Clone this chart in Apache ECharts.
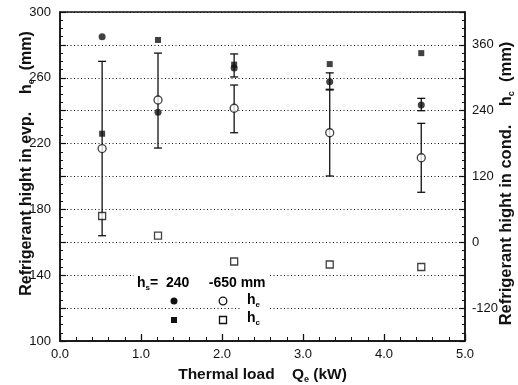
<!DOCTYPE html>
<html>
<head>
<meta charset="utf-8">
<script src="https://cdn.jsdelivr.net/npm/echarts@6/dist/echarts.min.js"></script>
<style>
  html, body { margin: 0; padding: 0; background: #fff; }
  #chart { width: 518px; height: 385px; }
</style>
</head>
<body>
<div id="chart"></div>
<script>
// thermal load Qe (kW)
var loadKW = [0.52, 1.21, 2.15, 3.33, 4.46];

// evaporator height he (mm), left axis
var heHs240 = [285, 239, 266, 257.6, 243.5];
var heHsNeg650 = [217, 246.5, 241.5, 226.6, 211.4];

// condenser height hc (mm), right axis
var hcHs240 = [198, 369, 324, 325, 345];
var hcHsNeg650 = [48, 12, -35, -40.5, -45];

// error bars (top / bottom), he
var errNeg650Top = [270, 275, 255.6, 253, 232.3];
var errNeg650Bot = [164, 217.3, 226.6, 200.3, 190.4];
var err240Load = [2.15, 3.33, 4.46];
var err240Top = [274.5, 263, 247.5];
var err240Bot = [260.5, 252.6, 240];

var leftTicks = [100, 140, 180, 220, 260, 300];
var rightTicks = [-120, 0, 120, 240, 360];

var FONT = '"Liberation Sans", Arial, sans-serif';

function pairs(xs, ys) {
  return xs.map(function (x, i) { return [x, ys[i]]; });
}
function triples(xs, a, b) {
  return xs.map(function (x, i) { return [x, b[i], a[i]]; });
}

function errBar(params, api) {
  var x = api.value(0);
  var lo = api.coord([x, api.value(1)]);
  var hi = api.coord([x, api.value(2)]);
  var w = 4;
  var st = { stroke: '#111', lineWidth: 1.3 };
  return {
    type: 'group',
    children: [
      { type: 'line', shape: { x1: hi[0], y1: hi[1], x2: lo[0], y2: lo[1] }, style: st },
      { type: 'line', shape: { x1: hi[0] - w, y1: hi[1], x2: hi[0] + w, y2: hi[1] }, style: st },
      { type: 'line', shape: { x1: lo[0] - w, y1: lo[1], x2: lo[0] + w, y2: lo[1] }, style: st }
    ]
  };
}

// rich styles for bold labels with subscripts
function richOf(size, sub, drop) {
  return {
    b: { fontFamily: FONT, fontWeight: 'bold', fontSize: size, color: '#111' },
    s: { fontFamily: FONT, fontWeight: 'bold', fontSize: sub, color: '#111', padding: [drop, 0, 0, 0] }
  };
}
var rich = richOf(14, 8, 9);
var richX = richOf(15.5, 9, 10);
var richY = richOf(16, 9, 10);
var richY2 = richOf(16.5, 9, 10);

var chart = echarts.init(document.getElementById('chart'));
chart.setOption({
  animation: false,
  grid: {
    left: 60, right: 53, top: 12, bottom: 44,
    outerBoundsMode: 'none', containLabel: false,
    show: true, borderColor: '#111', borderWidth: 1.5, backgroundColor: 'transparent'
  },
  xAxis: {
    type: 'value', min: 0, max: 5, interval: 1,
    name: '{b|Thermal load    Q}{s|e}{b| (kW)}',
    nameLocation: 'middle', nameGap: 24,
    nameTextStyle: { rich: richX },
    axisLine: { onZero: false, lineStyle: { color: '#111', width: 1.5 } },
    axisTick: { inside: true, length: 7, lineStyle: { color: '#111', width: 1.3 } },
    minorTick: { show: true, splitNumber: 5, length: 4, lineStyle: { color: '#111' } },
    splitLine: { show: false },
    axisLabel: {
      margin: 7, fontFamily: FONT, fontSize: 13, color: '#111',
      formatter: function (v) { return v.toFixed(1); }
    }
  },
  yAxis: [
    {
      type: 'value', min: 100, max: 300, interval: 20,
      name: '{b|Refrigerant hight in evp.    h}{s|e}{b|  (mm)}',
      nameLocation: 'middle', nameGap: 24, nameRotate: 90, nameMoveOverlap: false,
      nameTextStyle: { rich: richY, padding: [0, 0, 0, 26] },
      axisLine: { show: true, onZero: false, lineStyle: { color: '#111', width: 1.5 } },
      axisTick: { inside: true, length: 6, lineStyle: { color: '#111', width: 1.2 } },
      minorTick: { show: true, splitNumber: 4, length: 3, lineStyle: { color: '#111' } },
      splitLine: { show: true, lineStyle: { type: [1, 2.5], color: '#111', width: 1 } },
      axisLabel: {
        margin: 9, fontFamily: FONT, fontSize: 13, color: '#111',
        formatter: function (v) { return leftTicks.indexOf(v) >= 0 ? String(v) : ''; }
      }
    },
    {
      type: 'value', min: -180, max: 420, interval: 60, position: 'right',
      name: '{b|Refrigerant hight in cond.    h}{s|c}{b|  (mm)}',
      nameLocation: 'middle', nameGap: 32, nameRotate: 90, nameMoveOverlap: false,
      nameTextStyle: { rich: richY2, padding: [0, 14, 0, 0] },
      axisLine: { show: true, onZero: false, lineStyle: { color: '#111', width: 1.5 } },
      axisTick: { inside: true, length: 6, lineStyle: { color: '#111', width: 1.2 } },
      minorTick: { show: true, splitNumber: 4, length: 3, lineStyle: { color: '#111' } },
      splitLine: { show: false },
      axisLabel: {
        margin: 7, fontFamily: FONT, fontSize: 13, color: '#111',
        formatter: function (v) { return rightTicks.indexOf(v) >= 0 ? String(v) : ''; }
      }
    }
  ],
  graphic: [
    {
      type: 'text', left: 134, top: 275, z: 10,
      style: {
        text: '{b|h}{s|s}{b|=  240     -650 mm}', rich: rich,
        backgroundColor: '#fff', padding: [0, 3, 0, 3]
      }
    },
    {
      type: 'text', left: 240, top: 292, z: 10,
      style: { text: '{b|h}{s|e}', rich: rich, backgroundColor: '#fff', padding: [0, 8, 4, 7] }
    },
    {
      type: 'text', left: 247, top: 311, z: 10,
      style: { text: '{b|h}{s|c}', rich: rich }
    },
    { type: 'circle', z: 11, shape: { cx: 174, cy: 301, r: 3.5 }, style: { fill: '#111' } },
    { type: 'circle', z: 11, shape: { cx: 223, cy: 301, r: 3.8 }, style: { fill: '#fff', stroke: '#111', lineWidth: 1.3 } },
    { type: 'rect', z: 11, shape: { x: 171, y: 317, width: 6, height: 6 }, style: { fill: '#111' } },
    { type: 'rect', z: 11, shape: { x: 219.5, y: 316.5, width: 7, height: 7 }, style: { fill: '#fff', stroke: '#111', lineWidth: 1.3 } }
  ],
  series: [
    {
      type: 'custom', name: 'err -650', yAxisIndex: 0,
      renderItem: errBar, encode: { x: 0, y: [1, 2] },
      data: triples(loadKW, errNeg650Top, errNeg650Bot), z: 2
    },
    {
      type: 'custom', name: 'err 240', yAxisIndex: 0,
      renderItem: errBar, encode: { x: 0, y: [1, 2] },
      data: triples(err240Load, err240Top, err240Bot), z: 2
    },
    {
      type: 'scatter', name: 'he 240', yAxisIndex: 0,
      symbol: 'circle', symbolSize: 7,
      itemStyle: { color: '#111' },
      data: pairs(loadKW, heHs240), z: 4
    },
    {
      type: 'scatter', name: 'he -650', yAxisIndex: 0,
      symbol: 'circle', symbolSize: 8,
      itemStyle: { color: '#fff', borderColor: '#111', borderWidth: 1.3 },
      data: pairs(loadKW, heHsNeg650), z: 4
    },
    {
      type: 'scatter', name: 'hc 240', yAxisIndex: 1,
      symbol: 'rect', symbolSize: 6,
      itemStyle: { color: '#111' },
      data: pairs(loadKW, hcHs240), z: 4
    },
    {
      type: 'scatter', name: 'hc -650', yAxisIndex: 1,
      symbol: 'rect', symbolSize: 7,
      itemStyle: { color: '#fff', borderColor: '#111', borderWidth: 1.3 },
      data: pairs(loadKW, hcHsNeg650), z: 4
    }
  ]
});
</script>
</body>
</html>
